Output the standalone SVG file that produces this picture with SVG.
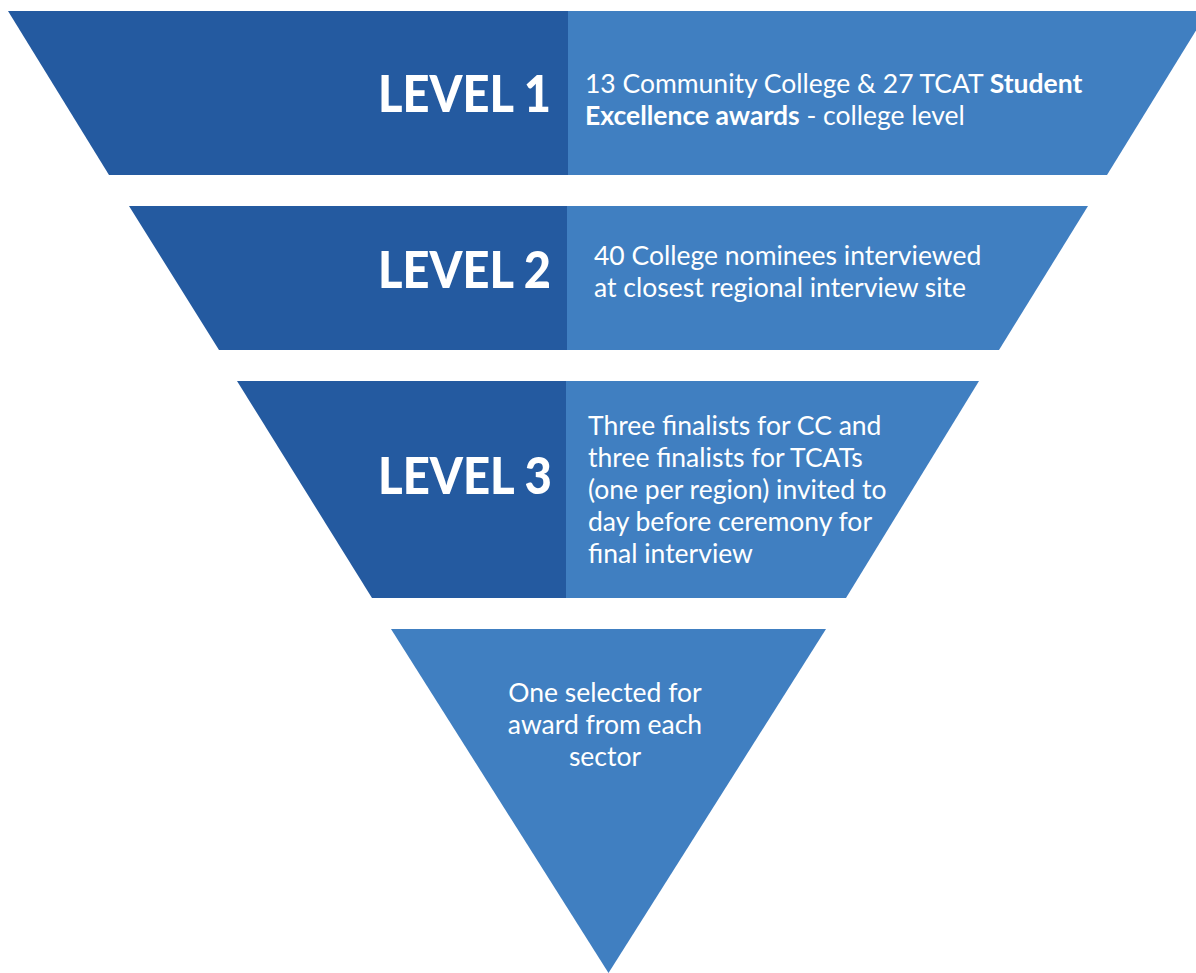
<svg xmlns="http://www.w3.org/2000/svg" width="1196" height="973" viewBox="0 0 1196 973">
<style>
.dark{fill:#245AA0}
.light{fill:#407FC1}
.lvl{font-family:Lato,"Liberation Sans",sans-serif;font-weight:900;font-size:51px;fill:#fff}
.desc{font-family:Lato,"Liberation Sans",sans-serif;font-size:26.5px;fill:#fff}
.b{font-weight:700}
</style>
<rect width="1196" height="973" fill="#fff"/>
<g id="level1">
<polygon class="dark" points="8,11 568,11 568,175 109,175"/>
<polygon class="light" points="568,11 1196,11 1196,30.5 1107,175 568,175"/>
<text class="lvl" x="378" y="112" textLength="173" lengthAdjust="spacingAndGlyphs">LEVEL 1</text>
<text class="desc" x="585" y="93">13 Community College &amp; 27 TCAT <tspan class="b">Student</tspan></text>
<text class="desc" x="585" y="125"><tspan class="b">Excellence awards</tspan> - college level</text>
</g>
<g id="level2">
<polygon class="dark" points="129,206 567,206 567,350 219,350"/>
<polygon class="light" points="567,206 1088,206 999,350 567,350"/>
<text class="lvl" x="378" y="288" textLength="173" lengthAdjust="spacingAndGlyphs">LEVEL 2</text>
<text class="desc" x="594" y="265">40 College nominees interviewed</text>
<text class="desc" x="594" y="297">at closest regional interview site</text>
</g>
<g id="level3">
<polygon class="dark" points="237,381 566,381 566,598 372,598"/>
<polygon class="light" points="566,381 979,381 846,598 566,598"/>
<text class="lvl" x="378" y="494" textLength="174" lengthAdjust="spacingAndGlyphs">LEVEL 3</text>
<text class="desc" x="588" y="435">Three finalists for CC and</text>
<text class="desc" x="588" y="467">three finalists for TCATs</text>
<text class="desc" x="588" y="499">(one per region) invited to</text>
<text class="desc" x="588" y="531">day before ceremony for</text>
<text class="desc" x="588" y="563">final interview</text>
</g>
<g id="award">
<polygon class="light" points="391,629 826,629 608.5,973"/>
<text class="desc" text-anchor="middle" x="605" y="702">One selected for</text>
<text class="desc" text-anchor="middle" x="605" y="734">award from each</text>
<text class="desc" text-anchor="middle" x="605" y="766">sector</text>
</g>
<g id="connectors"/>
</svg>
